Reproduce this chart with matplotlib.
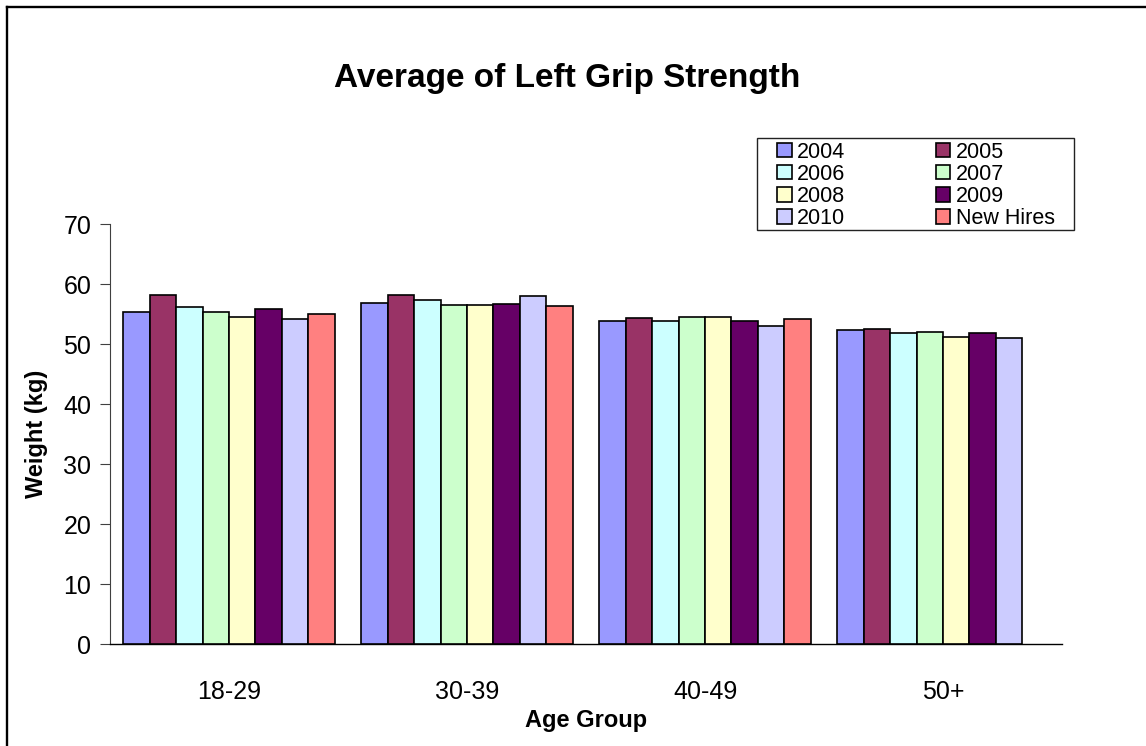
import matplotlib
matplotlib.use("Agg")
import matplotlib.pyplot as plt
import numpy as np
from matplotlib.lines import Line2D
from matplotlib.patches import Rectangle

plt.rcParams['font.family'] = ['Liberation Sans', 'DejaVu Sans']

categories = ["18-29", "30-39", "40-49", "50+"]
series_names = ["2004", "2005", "2006", "2007", "2008", "2009", "2010", "New Hires"]
v2004 = [55.4, 56.9, 53.9, 52.4]
v2005 = [58.2, 58.2, 54.4, 52.5]
v2006 = [56.2, 57.4, 53.9, 51.9]
v2007 = [55.4, 56.6, 54.6, 52.0]
v2008 = [54.5, 56.6, 54.6, 51.3]
v2009 = [55.9, 56.7, 53.9, 51.9]
v2010 = [54.2, 58.1, 53.1, 51.0]
vnew = [55.0, 56.4, 54.3, np.nan]
series_values = [v2004, v2005, v2006, v2007, v2008, v2009, v2010, vnew]
colors = ["#9999FF", "#993366", "#CCFFFF", "#CCFFCC", "#FFFFCC", "#660066", "#CCCCFF", "#FF8080"]
yticks = [0, 10, 20, 30, 40, 50, 60, 70]

W, H = 1146, 746
fig = plt.figure(figsize=(W / 100, H / 100), dpi=100)
ax = fig.add_axes([110 / W, 1 - 644.3 / H, (1062 - 110) / W, (644.3 - 224.3) / H])

n = len(series_names)
bw = 1.0 / (n + 1)
x = np.arange(len(categories))
handles = []
for i, (name, vals, c) in enumerate(zip(series_names, series_values, colors)):
    b = ax.bar(x + (i - (n - 1) / 2) * bw, vals, width=bw, color=c,
               edgecolor="black", linewidth=1.2, label=name, zorder=3)
    handles.append(b)

ax.set_xlim(-0.5, len(categories) - 0.5)
ax.set_ylim(0, 70)
ax.set_yticks(yticks)
ax.set_xticks(x)
ax.set_xticklabels(categories)
ax.tick_params(axis='y', labelsize=18, length=7.5, width=0.8, color="#404040", pad=6)
ax.tick_params(axis='x', labelsize=18, length=0, pad=26)
for s in ["top", "right"]:
    ax.spines[s].set_visible(False)
ax.spines["left"].set_color("#404040")
ax.spines["left"].set_linewidth(0.8)
ax.spines["bottom"].set_color("black")
ax.spines["bottom"].set_linewidth(1.0)

fig.text(567 / W, 1 - 79 / H, "Average of Left Grip Strength", ha="center", va="center",
         fontsize=24, fontweight="bold")
fig.text(586 / W, 1 - 721 / H, "Age Group", ha="center", va="center", fontsize=17, fontweight="bold")
fig.text(37 / W, 1 - 434 / H, "Weight (kg)", ha="center", va="center", rotation=90,
         fontsize=17, fontweight="bold")

# legend frame
fig.add_artist(Rectangle((757 / W, 1 - 230 / H), (1074 - 757) / W, (230 - 138) / H,
                         transform=fig.transFigure, facecolor="white", edgecolor="#222222",
                         linewidth=1.0, zorder=4))
order = [0, 2, 4, 6, 1, 3, 5, 7]
leg = fig.legend([handles[k] for k in order], [series_names[k] for k in order],
                 ncol=2, loc="upper left", bbox_to_anchor=(777 / W, 1 - 141.5 / H),
                 fontsize=15.5, frameon=False,
                 handlelength=0.68, handleheight=0.68, handletextpad=0.25,
                 labelspacing=0.05, columnspacing=4.2, borderpad=0, borderaxespad=0)
leg.set_zorder(5)

# outer chart border (left and top edges visible)
fig.add_artist(Line2D([7 / W, 7 / W], [0, 1 - 7 / H], transform=fig.transFigure,
                      color="black", linewidth=1.7))
fig.add_artist(Line2D([7 / W, 1], [1 - 7 / H, 1 - 7 / H], transform=fig.transFigure,
                      color="black", linewidth=1.7))

fig.savefig("out.png", dpi=100)
